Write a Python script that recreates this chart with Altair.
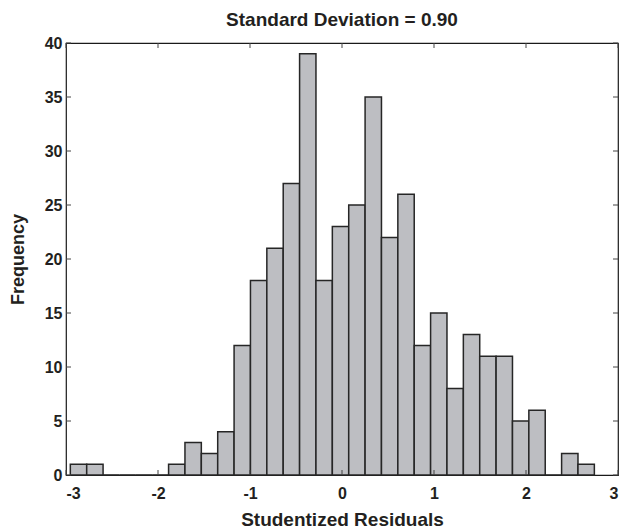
import altair as alt
import numpy as np
import pandas as pd

# ---- data ----
counts = [1, 1, 0, 0, 0, 0, 1, 3, 2, 4, 12, 18, 21, 27, 39, 18,
          23, 25, 35, 22, 26, 12, 15, 8, 13, 11, 11, 5, 6, 0, 2, 1]
first_edge = -2.953
bin_width = 0.178
x_ticks = [-3, -2, -1, 0, 1, 2, 3]
y_ticks = [0, 5, 10, 15, 20, 25, 30, 35, 40]

title_text = "Standard Deviation = 0.90"
x_title = "Studentized Residuals"
y_title = "Frequency"

W, H = 552, 432
FONT = "Liberation Sans"
TXT = "#231f20"

edges = first_edge + bin_width * np.arange(len(counts) + 1)
bars_df = pd.DataFrame({"start": edges[:-1], "end": edges[1:], "count": counts})
xt_df = pd.DataFrame({"v": x_ticks})
yt_df = pd.DataFrame({"v": y_ticks})

xscale = alt.Scale(domain=[-3, 3], nice=False, zero=False)
yscale = alt.Scale(domain=[0, 40], nice=False)

x_axis = alt.Axis(values=x_ticks, ticks=False, domain=False, grid=False,
                  labelExpr="toString(datum.value)",
                  labelFont=FONT, labelFontSize=16, labelFontWeight="bold",
                  labelColor=TXT, labelPadding=10,
                  title=x_title, titleFont=FONT, titleFontSize=19,
                  titleFontWeight="bold", titleColor=TXT,
                  titleX=W / 2, titleY=50, titleBaseline="alphabetic",
                  titleAlign="center")
y_axis = alt.Axis(values=y_ticks, ticks=False, domain=False, grid=False,
                  labelExpr="toString(datum.value)",
                  labelFont=FONT, labelFontSize=16, labelFontWeight="bold",
                  labelColor=TXT, labelPadding=4,
                  title=y_title, titleFont=FONT, titleFontSize=18,
                  titleFontWeight="bold", titleColor=TXT,
                  titleAngle=-90, titleX=-48, titleY=H / 2,
                  titleAlign="center", titleBaseline="middle")

bars = alt.Chart(bars_df).mark_rect(
    fill="#bdbec2", stroke="#262626", strokeWidth=1.5
).encode(
    x=alt.X("start:Q", scale=xscale, axis=x_axis, title=x_title),
    x2="end:Q",
    y=alt.Y("count:Q", scale=yscale, axis=y_axis, title=y_title),
    y2=alt.datum(0),
)

tick_color = "#444444"
left_ticks = alt.Chart(yt_df).mark_rule(color=tick_color, strokeWidth=1).encode(
    y=alt.Y("v:Q", scale=yscale, axis=y_axis, title=y_title),
    x=alt.value(0), x2=alt.value(5))
right_ticks = alt.Chart(yt_df).mark_rule(color=tick_color, strokeWidth=1).encode(
    y=alt.Y("v:Q", scale=yscale, axis=y_axis, title=y_title),
    x=alt.value(W - 5), x2=alt.value(W))
bottom_ticks = alt.Chart(xt_df).mark_rule(color=tick_color, strokeWidth=1).encode(
    x=alt.X("v:Q", scale=xscale, axis=x_axis, title=x_title),
    y=alt.value(H - 5), y2=alt.value(H))
top_ticks = alt.Chart(xt_df).mark_rule(color=tick_color, strokeWidth=1).encode(
    x=alt.X("v:Q", scale=xscale, axis=x_axis, title=x_title),
    y=alt.value(0), y2=alt.value(5))

chart = alt.layer(bars, left_ticks, right_ticks, bottom_ticks, top_ticks).properties(
    width=W, height=H,
    title=alt.TitleParams(title_text, font=FONT, fontSize=19, fontWeight="bold",
                          color=TXT, offset=16, dy=26, baseline="alphabetic",
                          anchor="middle"),
    autosize=alt.AutoSizeParams(type="none"),
    padding={"left": 66, "top": 43, "right": 1, "bottom": 53},
).configure(
    background="white"
).configure_view(
    stroke="#1a1a1a", strokeWidth=1.2
)

chart.save("out.html", embed_options={"renderer": "svg", "actions": False})
